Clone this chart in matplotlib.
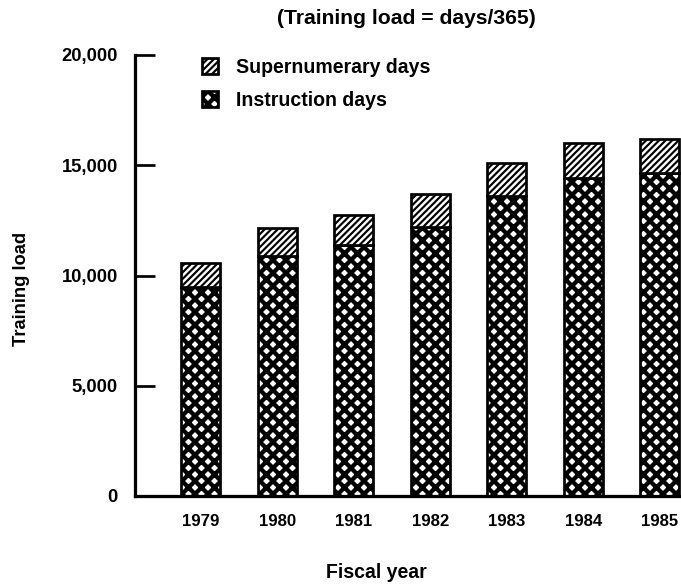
import numpy as np
import matplotlib
matplotlib.use("Agg")
import matplotlib.pyplot as plt
from matplotlib.patches import Patch

years = ["1979", "1980", "1981", "1982", "1983", "1984", "1985"]
instruction = [9500, 10900, 11400, 12200, 13600, 14400, 14650]
supernumerary = [1070, 1250, 1350, 1500, 1520, 1600, 1540]
y_ticks = [0, 5000, 10000, 15000, 20000]
y_tick_labels = ["0", "5,000", "10,000", "15,000", "20,000"]

DPI = 78
CROSS_LW = 4.0
DIAG_LW = 2.0
plt.rcParams['font.family'] = ['Liberation Sans', 'DejaVu Sans']
plt.rcParams['font.weight'] = 'bold'

fig = plt.figure(figsize=(682 / DPI, 587 / DPI), dpi=DPI)
ax = fig.add_axes([135 / 682, 1 - 496 / 587, 1 - 135 / 682, (496 - 55) / 587])

x = np.arange(len(years))
w = 0.51

def set_hlw(patches, lw):
    for p in patches:
        if hasattr(p, 'set_hatch_linewidth'):
            p.set_hatch_linewidth(lw)

plt.rcParams['hatch.linewidth'] = CROSS_LW
b1 = ax.bar(x, instruction, w, color='white', edgecolor='black',
            linewidth=2.5, hatch='xx')
set_hlw(b1, CROSS_LW)
plt.rcParams['hatch.linewidth'] = DIAG_LW
b2 = ax.bar(x, supernumerary, w, bottom=instruction, color='white',
            edgecolor='black', linewidth=2.5, hatch='////')
set_hlw(b2, DIAG_LW)

ax.set_xlim(-0.863, 6.29)
ax.set_ylim(0, 20000)
ax.set_yticks(y_ticks)
ax.set_yticklabels(y_tick_labels, fontsize=17, fontweight='bold')
ax.set_xticks(x)
ax.set_xticklabels(years, fontsize=15.5, fontweight='bold')
ax.tick_params(axis='y', direction='in', length=18, width=2.5, pad=16)
ax.tick_params(axis='x', length=0, pad=17)
for s in ['top', 'right']:
    ax.spines[s].set_visible(False)
for s in ['left', 'bottom']:
    ax.spines[s].set_linewidth(3)
ax.spines['left'].set_bounds(0, 20000)

fig.text(406 / 682, 1 - 18 / 587, "(Training load = days/365)",
         ha='center', va='center', fontsize=19.5)
fig.text(376 / 682, 1 - 572 / 587, "Fiscal year", ha='center', va='center',
         fontsize=18)
fig.text(22 / 682, 1 - 289 / 587, "Training load", ha='center', va='center',
         rotation=90, fontsize=17)

h1 = Patch(facecolor='white', edgecolor='black', hatch='////', linewidth=2.5)
h2 = Patch(facecolor='white', edgecolor='black', hatch='xx', linewidth=2.5)
leg = fig.legend([h1, h2], ["Supernumerary days", "Instruction days"],
                 loc='upper left', bbox_to_anchor=(184 / 682, 1 - 40 / 587),
                 frameon=False, fontsize=18, handlelength=0.85,
                 handleheight=0.85, handletextpad=0.9, labelspacing=0.72)
lh = leg.legend_handles
set_hlw([lh[0]], DIAG_LW)
set_hlw([lh[1]], CROSS_LW)

fig.savefig("out.png", dpi=DPI)
